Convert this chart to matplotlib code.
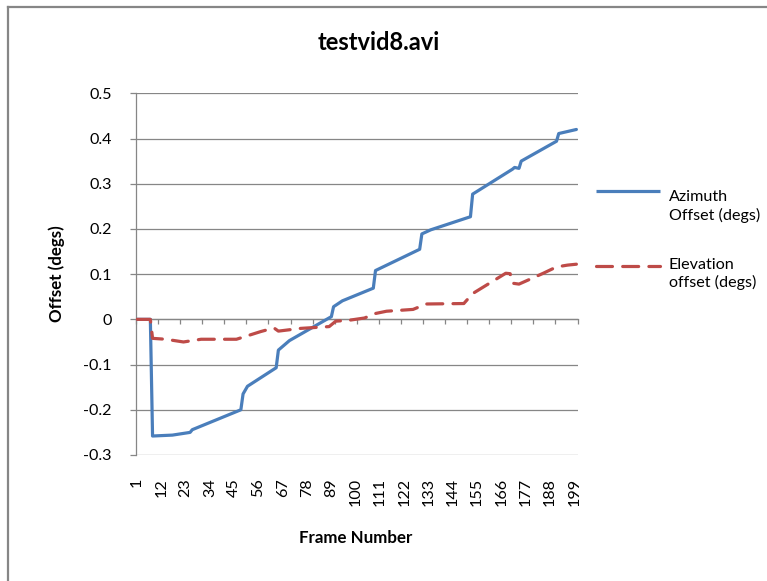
import matplotlib
matplotlib.use("Agg")
import matplotlib.pyplot as plt
from matplotlib.lines import Line2D
from matplotlib.ticker import FixedLocator, FuncFormatter

plt.rcParams['font.family'] = ['Lato', 'DejaVu Sans']

# ---- data -------------------------------------------------------------
title = "testvid8.avi"
x_label = "Frame Number"
y_label = "Offset (degs)"
n_frames = 200
frame_labels = list(range(1, 200, 11))          # 1, 12, ..., 199
y_ticks = [-0.3, -0.2, -0.1, 0.0, 0.1, 0.2, 0.3, 0.4, 0.5]

azimuth_label = "Azimuth\nOffset (degs)"
azimuth_frames = [1, 7, 8, 17, 25, 26, 48, 49, 51, 64, 65, 70, 89, 90, 94,
                  108, 109, 129, 130, 134, 152, 153, 171, 172, 174, 175,
                  191, 192, 200]
azimuth_values = [0.0, 0.0, -0.258, -0.256, -0.250, -0.244, -0.200, -0.165,
                  -0.148, -0.107, -0.068, -0.047, 0.006, 0.028, 0.041,
                  0.069, 0.108, 0.155, 0.189, 0.198, 0.227, 0.277, 0.332,
                  0.336, 0.334, 0.350, 0.394, 0.411, 0.420]

elevation_label = "Elevation\noffset (degs)"
elevation_frames = [1, 7, 8, 14, 22, 30, 46, 57, 63, 65, 75, 88, 91, 97,
                    104, 109, 114, 126, 132, 149, 153, 163, 168, 170, 171,
                    174, 180, 185, 191, 196, 200]
elevation_values = [0.0, 0.0, -0.042, -0.044, -0.050, -0.044, -0.044,
                    -0.027, -0.019, -0.026, -0.020, -0.016, -0.004, -0.002,
                    0.003, 0.013, 0.018, 0.022, 0.034, 0.035, 0.057, 0.087,
                    0.102, 0.101, 0.080, 0.078, 0.091, 0.102, 0.116, 0.120,
                    0.122]

# ---- style ------------------------------------------------------------
W, H = 767, 581
BLUE = "#4A7EBB"
RED = "#BE4B48"
GRAY = "#868686"
LW = 2.3
FS = 11.6
FS_BOLD = 12.2


def fx(px):
    return px / W


def fy(py):
    return 1 - py / H


fig = plt.figure(figsize=(W / 100, H / 100), dpi=100)
fig.patch.set_facecolor("white")

# chart-area frame (left and top edges)
fig.add_artist(Line2D([fx(7.5), fx(7.5)], [fy(6.5), 0], transform=fig.transFigure,
                      color=GRAY, lw=1.6))
fig.add_artist(Line2D([fx(7.5), 1], [fy(6.5), fy(6.5)], transform=fig.transFigure,
                      color=GRAY, lw=1.6))

left, right, top, bottom = 136, 577.5, 93.3, 455
ax = fig.add_axes([fx(left), fy(bottom), fx(right - left), fy(top) - fy(bottom)])
ax.set_xlim(0.5, n_frames + 0.5)
ax.set_ylim(-0.3, 0.5)

# gridlines
ax.set_yticks(y_ticks)
ax.yaxis.set_major_formatter(FuncFormatter(lambda v, p: f"{v:g}"))
ax.grid(axis="y", color=GRAY, lw=0.9)
ax.set_axisbelow(True)
ax.tick_params(axis="y", length=4.3, width=0.9, color=GRAY, pad=13,
               labelsize=FS, labelcolor="black")

for s in ("top", "right"):
    ax.spines[s].set_visible(False)
ax.spines["left"].set_color(GRAY)
ax.spines["left"].set_linewidth(0.9)

# category axis line crosses at zero, tick marks every 10 frames
ax.spines["bottom"].set_position(("data", 0))
ax.spines["bottom"].set_color(GRAY)
ax.spines["bottom"].set_linewidth(0.9)
ax.xaxis.set_major_locator(FixedLocator([0.5 + 10 * i for i in range(21)]))
ax.xaxis.set_major_formatter(FuncFormatter(lambda v, p: ""))
ax.tick_params(axis="x", direction="out", length=3.3, width=0.9, color=GRAY)

# frame labels along the bottom of the plot area
sec = ax.secondary_xaxis(0.0)
sec.set_xticks(frame_labels)
sec.set_xticklabels([str(f) for f in frame_labels])
sec.tick_params(axis="x", length=0, pad=16.5, labelrotation=90, labelsize=FS)
sec.spines["bottom"].set_visible(False)

# series
ax.plot(azimuth_frames, azimuth_values, color=BLUE, lw=LW,
        solid_joinstyle="round", solid_capstyle="round", zorder=3)
ax.plot(elevation_frames, elevation_values, color=RED, lw=LW,
        dashes=(5.0, 3.2), dash_capstyle="round", zorder=3)

# titles
fig.text(fx(379), fy(43), title, ha="center", va="center",
         fontsize=17, fontweight="bold")
fig.text(fx(356), fy(538), x_label, ha="center", va="center",
         fontsize=FS_BOLD, fontweight="bold")
fig.text(fx(57), fy(274), y_label, ha="center", va="center", rotation=90,
         fontsize=FS_BOLD, fontweight="bold")

# legend
fig.add_artist(Line2D([fx(596), fx(660)], [fy(191), fy(191)], transform=fig.transFigure,
                      color=BLUE, lw=LW, solid_capstyle="butt"))
fig.text(fx(669), fy(206.5), azimuth_label, ha="left", va="center",
         fontsize=FS, linespacing=1.3)
fig.add_artist(Line2D([fx(596), fx(660)], [fy(265.5), fy(265.5)], transform=fig.transFigure,
                      color=RED, lw=LW, dashes=(5.0, 3.2), dash_capstyle="round"))
fig.text(fx(669), fy(274), elevation_label, ha="left", va="center",
         fontsize=FS, linespacing=1.3)

fig.savefig("out.png", dpi=100, facecolor="white")
